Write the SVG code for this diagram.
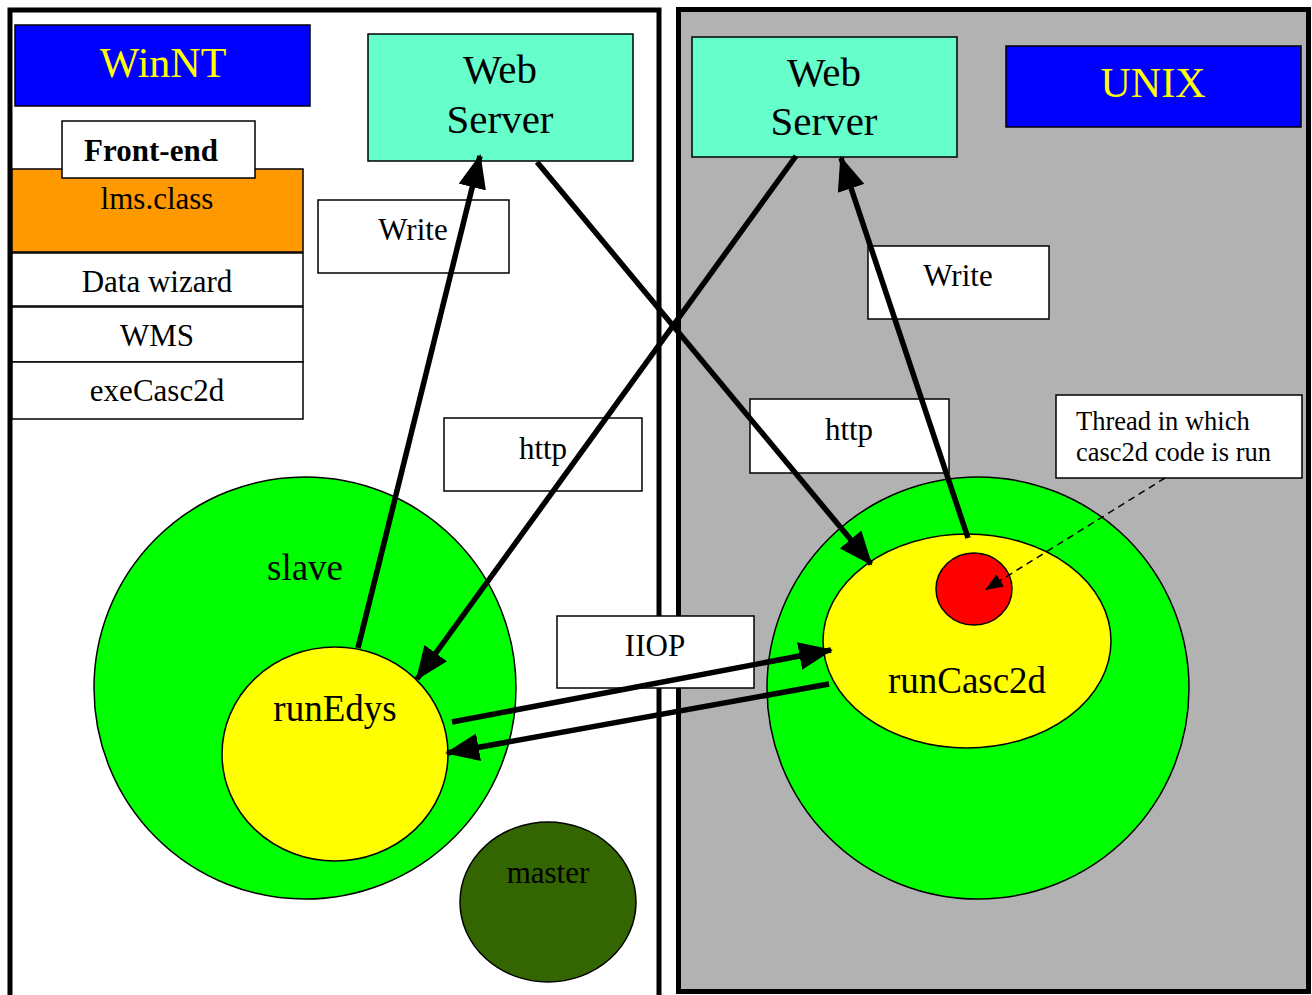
<svg xmlns="http://www.w3.org/2000/svg" width="1312" height="995" viewBox="0 0 1312 995">
  <style>
    text { font-family: "Liberation Serif", "Times New Roman", serif; fill: #000; text-anchor: middle; }
    .box { fill: #fff; stroke: #000; stroke-width: 1.5; }
    .os { fill: #0000ff; stroke: #000; stroke-width: 1.5; }
    .os-t { fill: #ffff00; font-size: 42px; }
    .web { fill: #66ffcc; stroke: #000; stroke-width: 1.5; }
    .big { font-size: 41px; }
    .lbl { font-size: 31px; }
    .proc { font-size: 37px; }
    .edge { fill: none; stroke: #000; stroke-width: 5.5; }
    .note { fill: none; stroke: #000; stroke-width: 1.5; stroke-dasharray: 7 5; }
    .blob { stroke: #000; stroke-width: 1.5; }
  </style>
  <defs>
    <marker id="head" markerUnits="userSpaceOnUse" markerWidth="34" markerHeight="28" refX="32" refY="14" orient="auto">
      <path d="M0,0 L34,14 L0,28 Z" fill="#000"/>
    </marker>
    <marker id="head-sm" markerUnits="userSpaceOnUse" markerWidth="18" markerHeight="14" refX="18" refY="7" orient="auto">
      <path d="M0,0 L18,7 L0,14 Z" fill="#000"/>
    </marker>
  </defs>

  <rect width="1312" height="995" fill="#fff"/>

  <!-- WinNT host -->
  <g id="winnt-host">
    <rect x="10" y="10" width="649" height="1000" fill="#fff" stroke="#000" stroke-width="5"/>
  </g>
  <!-- UNIX host -->
  <g id="unix-host">
    <rect x="678.5" y="9.5" width="630" height="982" fill="#b2b2b2" stroke="#000" stroke-width="5"/>
  </g>

  <g id="winnt-label">
    <rect class="os" x="15" y="25" width="295" height="81"/>
    <text class="os-t" x="163" y="77">WinNT</text>
  </g>
  <g id="unix-label">
    <rect class="os" x="1006" y="46" width="295" height="81"/>
    <text class="os-t" x="1153" y="97">UNIX</text>
  </g>

  <!-- Front-end stack -->
  <g id="lms-class">
    <rect x="12" y="169" width="291" height="83" fill="#ff9900" stroke="#000" stroke-width="1.5"/>
    <text class="lbl" x="157" y="209">lms.class</text>
  </g>
  <g id="front-end">
    <rect class="box" x="62" y="121" width="193" height="57"/>
    <text class="lbl" x="151" y="161" font-weight="bold">Front-end</text>
  </g>
  <g id="data-wizard">
    <rect class="box" x="12" y="253" width="291" height="53"/>
    <text class="lbl" x="157" y="292">Data wizard</text>
  </g>
  <g id="wms">
    <rect class="box" x="12" y="307" width="291" height="55"/>
    <text class="lbl" x="157" y="346">WMS</text>
  </g>
  <g id="exe-casc2d">
    <rect class="box" x="12" y="362" width="291" height="57"/>
    <text class="lbl" x="157" y="401">exeCasc2d</text>
  </g>

  <!-- Web servers -->
  <g id="web-server-nt">
    <rect class="web" x="368" y="34" width="265" height="127"/>
    <text class="big" x="500" y="83">Web</text>
    <text class="big" x="500" y="133">Server</text>
  </g>
  <g id="web-server-unix">
    <rect class="web" x="692" y="37" width="265" height="120"/>
    <text class="big" x="824" y="86">Web</text>
    <text class="big" x="824" y="135">Server</text>
  </g>

  <!-- Edge labels -->
  <g id="write-nt">
    <rect class="box" x="318" y="200" width="191" height="73"/>
    <text class="lbl" x="413" y="240">Write</text>
  </g>
  <g id="write-unix">
    <rect class="box" x="868" y="246" width="181" height="73"/>
    <text class="lbl" x="958" y="286">Write</text>
  </g>
  <g id="http-nt">
    <rect class="box" x="444" y="418" width="198" height="73"/>
    <text class="lbl" x="543" y="459">http</text>
  </g>
  <g id="http-unix">
    <rect class="box" x="750" y="399" width="199" height="74"/>
    <text class="lbl" x="849" y="440">http</text>
  </g>
  <g id="iiop">
    <rect class="box" x="557" y="616" width="197" height="72"/>
    <text class="lbl" x="655" y="656">IIOP</text>
  </g>
  <g id="thread-note">
    <rect class="box" x="1056" y="395" width="246" height="83"/>
    <text x="1076" y="430" font-size="26.5" style="text-anchor:start">Thread in which</text>
    <text x="1076" y="461" font-size="26.5" style="text-anchor:start">casc2d code is run</text>
  </g>

  <!-- Processes -->
  <g id="slave">
    <ellipse class="blob" cx="305" cy="688" rx="211" ry="211" fill="#00ff00"/>
    <text class="proc" x="305" y="580">slave</text>
  </g>
  <g id="run-edys">
    <ellipse class="blob" cx="335" cy="754" rx="113" ry="107" fill="#ffff00"/>
    <text class="proc" x="335" y="721">runEdys</text>
  </g>
  <g id="master">
    <ellipse class="blob" cx="548" cy="902" rx="88" ry="80" fill="#336600"/>
    <text class="lbl" x="548" y="883">master</text>
  </g>
  <g id="unix-process">
    <ellipse class="blob" cx="978" cy="688" rx="211" ry="211" fill="#00ff00"/>
  </g>
  <g id="run-casc2d">
    <ellipse class="blob" cx="967" cy="641" rx="144" ry="107" fill="#ffff00"/>
    <text class="proc" x="967" y="693">runCasc2d</text>
  </g>
  <g id="casc2d-thread">
    <ellipse class="blob" cx="974" cy="589" rx="38" ry="36" fill="#ff0000"/>
  </g>

  <!-- Connectors -->
  <g id="connectors">
    <line class="edge" x1="358" y1="648" x2="480" y2="156" marker-end="url(#head)"/>
    <line class="edge" x1="537" y1="162" x2="871" y2="564" marker-end="url(#head)"/>
    <line class="edge" x1="796" y1="156" x2="417" y2="679" marker-end="url(#head)"/>
    <line class="edge" x1="968" y1="538" x2="841" y2="158" marker-end="url(#head)"/>
    <line class="edge" x1="452" y1="722" x2="831" y2="650" marker-end="url(#head)"/>
    <line class="edge" x1="829" y1="684" x2="447" y2="753" marker-end="url(#head)"/>
    <line class="note" x1="1165" y1="478" x2="985" y2="590" marker-end="url(#head-sm)"/>
  </g>
</svg>
